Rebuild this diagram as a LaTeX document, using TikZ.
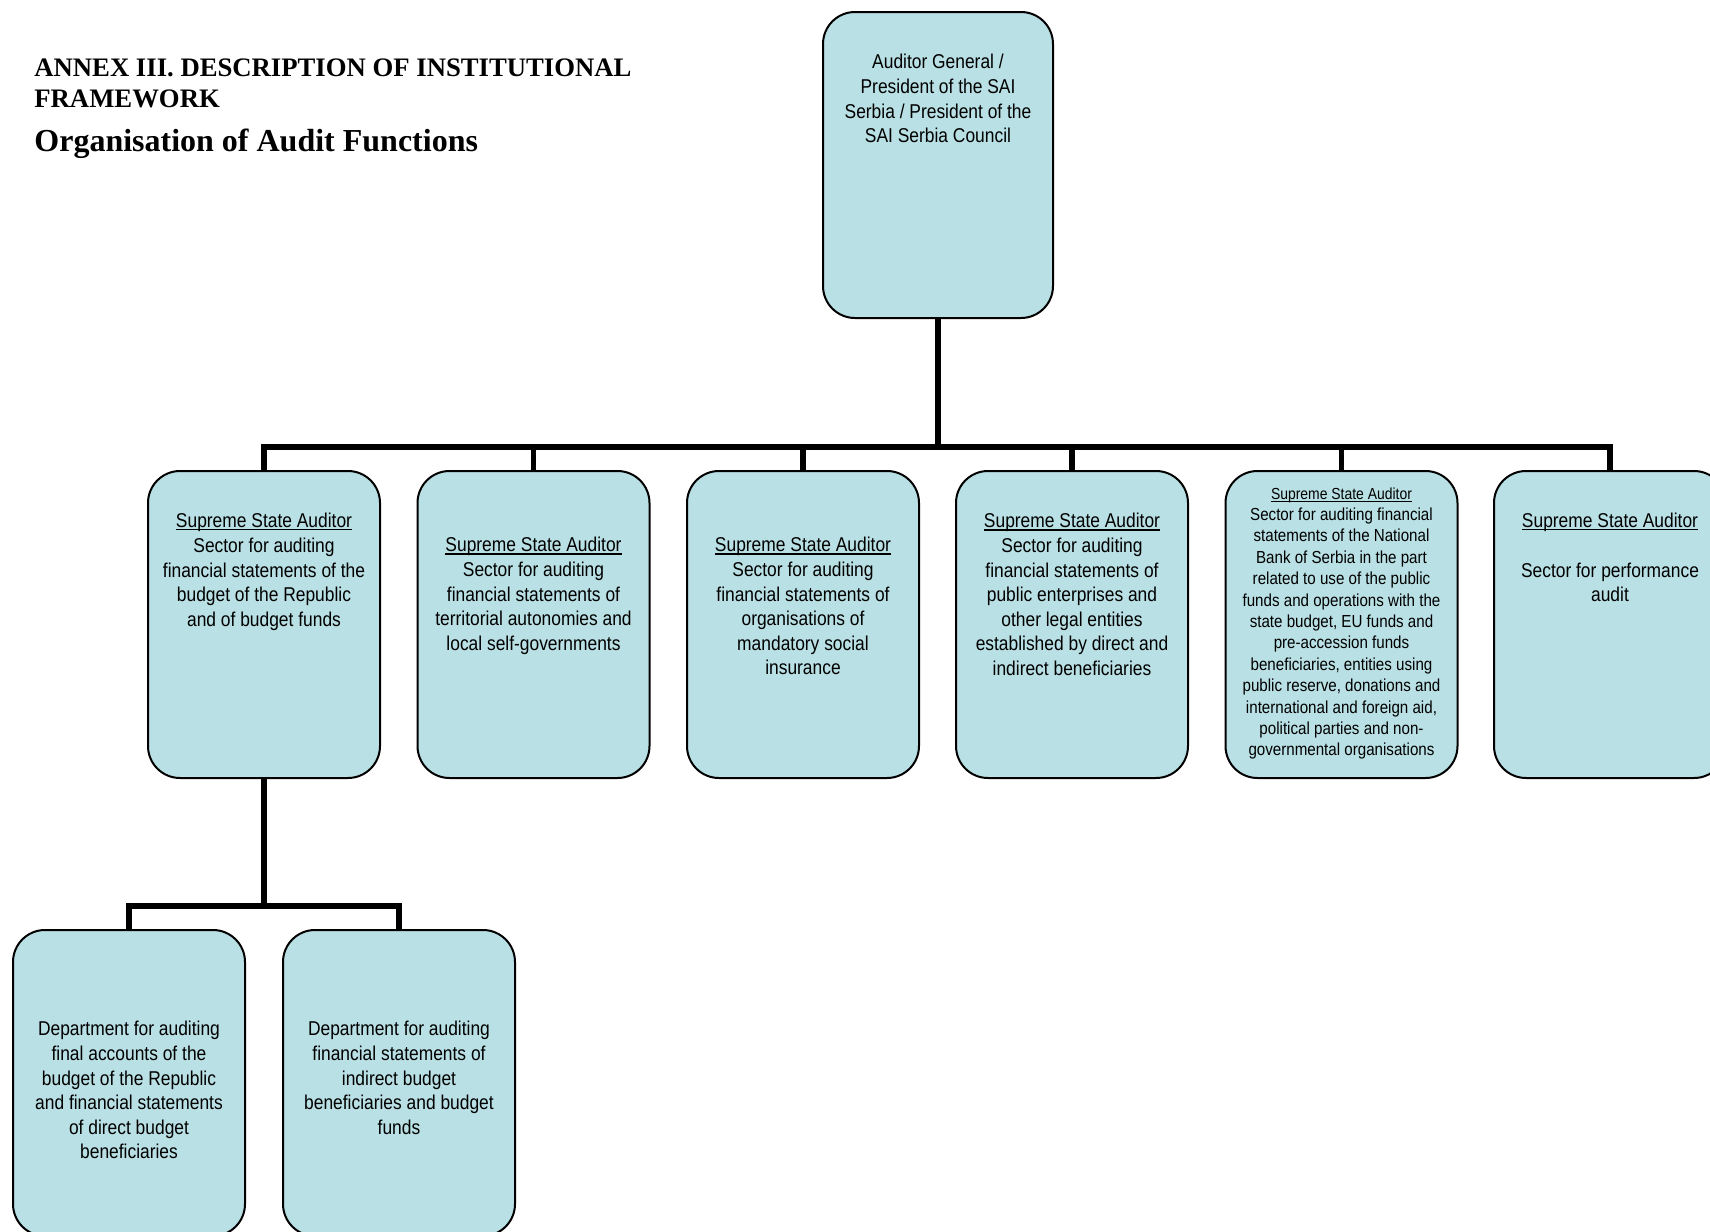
\documentclass[tikz,border=0pt]{standalone}
\usepackage{fontspec}
\setmainfont{Liberation Serif}
\newfontfamily\boxfont[FakeStretch=0.87]{Liberation Sans}
\definecolor{boxfill}{RGB}{185,224,228}
\newcommand\myul[1]{\setbox0\hbox{#1}\rlap{\rule[-1.3pt]{\wd0}{0.55pt}}\box0}
\begin{document}
\begin{tikzpicture}[x=0.5pt,y=-0.5pt,
  box/.style={draw=black, line width=1pt, fill=boxfill, rounded corners=16pt,
    anchor=north west, minimum width=116pt, minimum height=153.5pt, inner sep=0pt, outer sep=0pt},
  txt/.style={anchor=north, align=center, inner sep=0pt,
    font=\boxfont\fontsize{10}{12.3}\selectfont},
  smalltxt/.style={anchor=north, align=center, inner sep=0pt,
    font=\boxfont\fontsize{8.7}{10.7}\selectfont},
  conn/.style={line width=2.8pt},
  ttl/.style={anchor=base west, inner sep=0pt, font=\bfseries\fontsize{13.35}{15.5}\selectfont}]
\clip (0,0) rectangle (1710,1232);
\fill[white] (0,0) rectangle (1710,1232);

% titles
\node[ttl] (ttlA) at (34,76) {ANNEX III. DESCRIPTION OF INSTITUTIONAL};
\node[ttl] (ttlB) at (34,107) {FRAMEWORK};
\node[ttl, font=\bfseries\fontsize{16}{19}\selectfont] (ttlC) at (34,151) {Organisation of Audit Functions};

% boxes
\node[box, minimum width=115pt, minimum height=153pt] (top) at (823,12) {};
\node[box] (b1) at (148,471) {};
\node[box] (b2) at (417.5,471) {};
\node[box] (b3) at (687,471) {};
\node[box] (b4) at (956,471) {};
\node[box] (b5) at (1225.5,471) {};
\node[box] (b6) at (1494,471) {};
\node[box, minimum height=153pt] (d1) at (13,930) {};
\node[box, minimum height=153pt] (d2) at (283,930) {};

% connectors
\path (top.south) ++(0,129) coordinate (j1);
\path (b1.south) ++(0,128) coordinate (j2);
\draw[conn] (top.south) -- (j1);
\foreach \b in {b1,b2,b3,b4,b5,b6} \draw[conn] (j1) -| (\b.north);
\draw[conn] (b1.south) -- (j2);
\draw[conn] (j2) -| (d1.north);
\draw[conn] (j2) -| (d2.north);

% texts
\node[txt] (ttop) at (938,54) {Auditor General /\\President of the SAI\\Serbia / President of the\\SAI Serbia Council};
\node[txt] (t1) at (264,513) {\myul{Supreme State Auditor}\\Sector for auditing\\financial statements of the\\budget of the Republic\\and of budget funds};
\node[txt] (t2) at (533.5,537) {\myul{Supreme State Auditor}\\Sector for auditing\\financial statements of\\territorial autonomies and\\local self-governments};
\node[txt] (t3) at (803,537) {\myul{Supreme State Auditor}\\Sector for auditing\\financial statements of\\organisations of\\mandatory social\\insurance};
\node[txt] (t4) at (1072,513) {\myul{Supreme State Auditor}\\Sector for auditing\\financial statements of\\public enterprises and\\other legal entities\\established by direct and\\indirect beneficiaries};
\node[smalltxt] (t5) at (1341.5,487) {{\fontsize{8}{10.7}\selectfont\myul{Supreme State Auditor}}\\Sector for auditing financial\\statements of the National\\Bank of Serbia in the part\\related to use of the public\\funds and operations with the\\state budget, EU funds and\\pre-accession funds\\beneficiaries, entities using\\public reserve, donations and\\international and foreign aid,\\political parties and non-\\governmental organisations};
\node[txt] (t6) at (1610,513) {\myul{Supreme State Auditor}\\[12.3pt]Sector for performance\\audit};
\node[txt] (td1) at (129,1021) {Department for auditing\\final accounts of the\\budget of the Republic\\and financial statements\\of direct budget\\beneficiaries};
\node[txt] (td2) at (399,1021) {Department for auditing\\financial statements of\\indirect budget\\beneficiaries and budget\\funds};
\end{tikzpicture}
\end{document}
